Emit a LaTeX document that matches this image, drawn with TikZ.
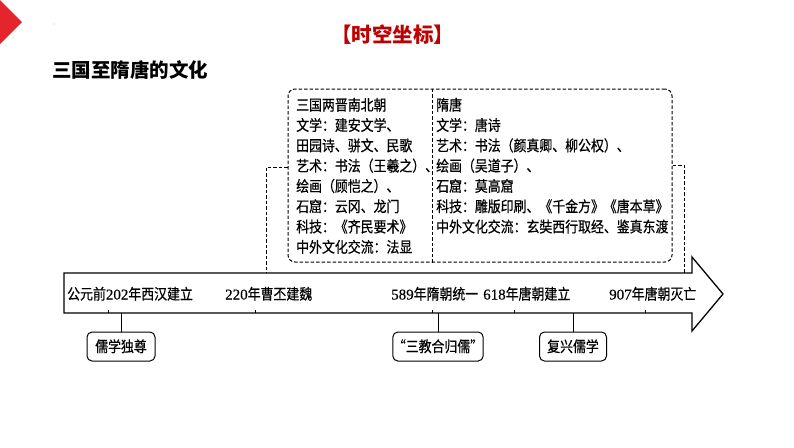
\documentclass[tikz,border=0pt]{standalone}
\usepackage{fontspec}
\setmainfont{Liberation Serif}
\newfontfamily\cjk[FakeStretch=0.86,FakeBold=0.6]{Noto Sans CJK SC}
\newfontfamily\cjkt{Noto Sans CJK SC}
\newfontfamily\dg[FakeBold=0.4]{Liberation Serif}
\definecolor{titlered}{RGB}{192,0,0}
\definecolor{tri}{RGB}{228,38,44}
\tikzset{
  body/.style={font=\cjk\fontsize{15}{18}\selectfont, inner sep=0pt, text height=13pt, text depth=2pt, anchor=west},
  dsh/.style={line width=1pt, dash pattern=on 3.5pt off 2pt},
  tag/.style={draw, line width=1pt, rounded corners=5pt, minimum height=29pt, inner sep=0pt, font=\cjk\fontsize{15}{18}\selectfont, text height=13pt, text depth=2pt},
  conn/.style={line width=1pt}
}
\begin{document}
\begin{tikzpicture}[x=1pt,y=-1pt]
\useasboundingbox (0,0) rectangle (794,447);
% decoration
\fill[tri] (0,0) -- (22,22) -- (0,44) -- cycle;
\fill[gray!60] (54,24) circle (0.7pt);
% titles
\node (title) [font=\cjkt\bfseries\fontsize{20.5}{24}\selectfont, text=titlered, inner sep=0pt] at (392.5,35) {【时空坐标】};
\node (sub) [font=\cjkt\bfseries\fontsize{19.5}{24}\selectfont, inner sep=0pt, anchor=west] at (52,70) {三国至隋唐的文化};
% dashed box
\node (box) [draw, dsh, rounded corners=7pt, minimum width=384pt, minimum height=173pt, inner sep=0pt] at (480,175.5) {};
\draw[dsh] (box.north -| 432,0) -- (box.south -| 432,0);
\foreach \t [count=\i] in {{三国两晋南北朝},{文学：建安文学、},{田园诗、骈文、民歌},{艺术：书法（王羲之）、},{绘画（顾恺之）、},{石窟：云冈、龙门},{科技：《齐民要术》},{中外文化交流：法显}}
  \node (l\i) [body] at (296,{105+20.3*(\i-1)}) {\t};
\foreach \t [count=\i] in {{隋唐},{文学：唐诗},{艺术：书法（颜真卿、柳公权）、},{绘画（吴道子）、},{石窟：莫高窟},{科技：雕版印刷、《千金方》《唐本草》},{中外文化交流：玄奘西行取经、鉴真东渡}}
  \node (r\i) [body] at (436,{105+20.3*(\i-1)}) {\t};
% arrow
\draw[line width=1.3pt, line join=miter] (64,273) -- (692,273) -- (692,257) -- (723,294) -- (692,331) -- (692,313) -- (64,313) -- cycle;
\coordinate (j1) at (266,273);
\coordinate (j2) at (684,273);
\draw[dsh] ([yshift=8.5pt]box.west) -| (j1);
\draw[dsh] ([yshift=10.5pt]box.east) -| (j2);
% labels
\node (t1) [body] at (67,294) {公元前{\dg 202}年西汉建立};
\node (t2) [body] at (225,294) {{\dg 220}年曹丕建魏};
\node (t3) [body] at (391,294) {{\dg 589}年隋朝统一};
\node (t4) [body] at (483,294) {{\dg 618}年唐朝建立};
\node (t5) [body] at (609,294) {{\dg 907}年唐朝灭亡};
% ticks
\foreach \x in {108,255,432,514,645} \draw[line width=0.6pt] (\x,313) -- (\x,309.5);
% tags
\node (b1) [tag, minimum width=68pt] at (121,346.5) {儒学独尊};
\node (b2) [tag, minimum width=84pt] at (438,346.5) {“三教合归儒”};
\node (b3) [tag, minimum width=67pt] at (573,346.5) {复兴儒学};
\foreach \b in {b1,b2,b3} \draw[conn] (\b.north) -- (\b.north |- 0,313);
\end{tikzpicture}
\end{document}
